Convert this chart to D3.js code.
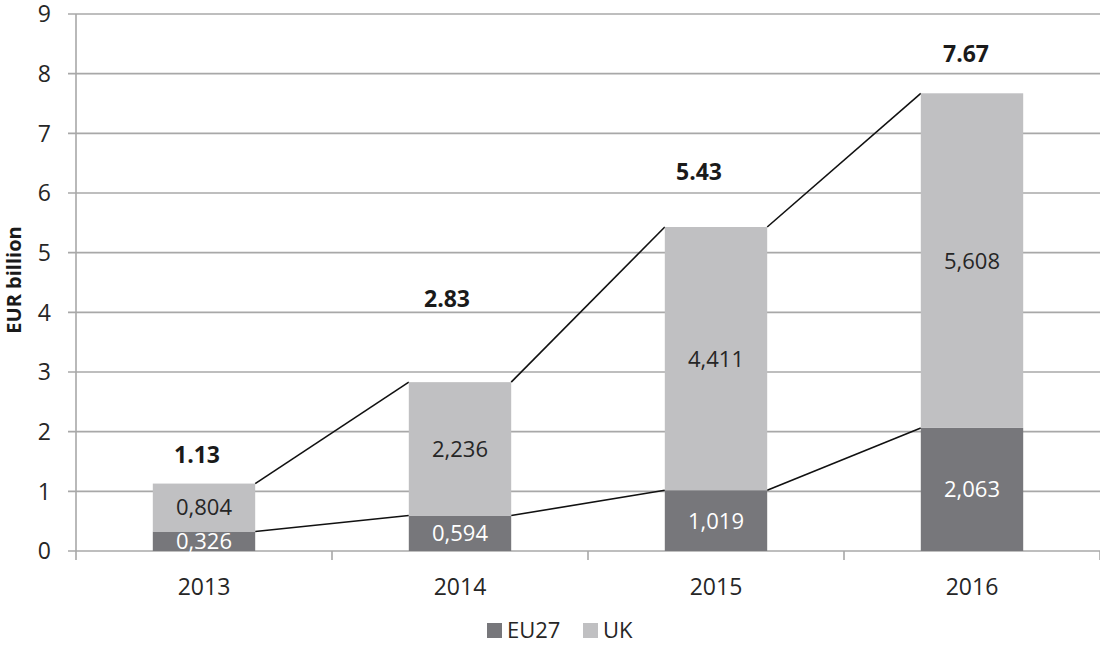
<!DOCTYPE html>
<html>
<head>
<meta charset="utf-8">
<script src="https://cdn.jsdelivr.net/npm/d3@7"></script>
<style>
    body { margin: 0; background: #fff; }
    text { font-family: "Open Sans", sans-serif; }
</style>
</head>
<body>
<div id="chart-area"></div>
<script>
// data
const years = ["2013", "2014", "2015", "2016"];
const eu27 = [0.326, 0.594, 1.019, 2.063];
const uk = [0.804, 2.236, 4.411, 5.608];
const totals = [1.13, 2.83, 5.43, 7.67];
const yTicks = [0, 1, 2, 3, 4, 5, 6, 7, 8, 9];

// total labels were placed by hand in the original, keep their nudges here
const totalLabelLift = [29, 83, 55, 40];
const totalLabelShift = [-7, -13, -17, -6];

const width = 1100;
const height = 646;
const margins = { top: 14, right: 0, bottom: 95, left: 76 };
const graphWidth = width - margins.left - margins.right;
const graphHeight = height - margins.top - margins.bottom;

const colors = { eu27: "#77777b", uk: "#c0c0c2", grid: "#a8a8a8" };

const svg = d3.select("#chart-area")
    .append("svg")
        .attr("width", width)
        .attr("height", height);

const chart = svg.append("g")
    .attr("transform", `translate(${margins.left}, ${margins.top})`);

const x = d3.scaleBand()
    .domain(years)
    .range([0, graphWidth])
    .paddingInner(0.6)
    .paddingOuter(0.3);

// band boundaries for the tick marks
const xEdges = d3.scaleLinear().domain([0, years.length]).range([0, graphWidth]);

const y = d3.scaleLinear()
    .domain([0, 9])
    .range([graphHeight, 0]);

// gridlines
chart.append("g")
    .selectAll("line")
    .data(yTicks)
    .enter()
    .append("line")
    .attr("x1", -8)
    .attr("x2", graphWidth)
    .attr("y1", d => y(d))
    .attr("y2", d => y(d))
    .attr("stroke", colors.grid)
    .attr("stroke-width", 1.6);

// y tick labels
chart.append("g")
    .selectAll("text")
    .data(yTicks)
    .enter()
    .append("text")
    .attr("x", -25)
    .attr("y", d => y(d))
    .attr("dy", "0.36em")
    .attr("text-anchor", "end")
    .attr("font-size", 23)
    .attr("fill", "#262626")
    .text(d => d);

// y axis line
chart.append("line")
    .attr("x1", 0).attr("x2", 0)
    .attr("y1", 0).attr("y2", graphHeight)
    .attr("stroke", colors.grid)
    .attr("stroke-width", 1.6);

// x tick marks at category edges
chart.append("g")
    .selectAll("line")
    .data(d3.range(years.length + 1))
    .enter()
    .append("line")
    .attr("x1", d => xEdges(d))
    .attr("x2", d => xEdges(d))
    .attr("y1", graphHeight)
    .attr("y2", graphHeight + 9)
    .attr("stroke", colors.grid)
    .attr("stroke-width", 1.6);

// x labels
chart.append("g")
    .selectAll("text")
    .data(years)
    .enter()
    .append("text")
    .attr("x", d => x(d) + x.bandwidth() / 2)
    .attr("y", graphHeight + 44)
    .attr("text-anchor", "middle")
    .attr("font-size", 23)
    .attr("fill", "#262626")
    .text(d => d);

// y axis title
svg.append("text")
    .attr("transform", "translate(21, 280) rotate(-90)")
    .attr("text-anchor", "middle")
    .attr("font-size", 20)
    .attr("font-weight", "bold")
    .attr("fill", "#1a1a1a")
    .text("EUR billion");

// stacked rows
const rows = years.map((yr, i) => ({ year: yr, eu27: eu27[i], uk: uk[i] }));
const stack = d3.stack().keys(["eu27", "uk"])(rows);

// series lines between bars
const seriesLine = chart.append("g");
stack.forEach(layer => {
    for (let i = 0; i < layer.length - 1; i++) {
        seriesLine.append("line")
            .attr("x1", x(years[i]) + x.bandwidth())
            .attr("y1", y(layer[i][1]))
            .attr("x2", x(years[i + 1]))
            .attr("y2", y(layer[i + 1][1]))
            .attr("stroke", "#111")
            .attr("stroke-width", 1.6);
    }
});

// bars
chart.append("g")
    .selectAll("g")
    .data(stack)
    .enter()
    .append("g")
    .attr("fill", d => colors[d.key])
    .selectAll("rect")
    .data(d => d)
    .enter()
    .append("rect")
    .attr("x", d => x(d.data.year))
    .attr("y", d => y(d[1]))
    .attr("width", x.bandwidth())
    .attr("height", d => y(d[0]) - y(d[1]));

// segment labels
const fmt = v => d3.format(".3f")(v).replace(".", ",");
stack.forEach(layer => {
    chart.append("g")
        .selectAll("text")
        .data(layer)
        .enter()
        .append("text")
        .attr("x", d => x(d.data.year) + x.bandwidth() / 2)
        .attr("y", d => (y(d[0]) + y(d[1])) / 2)
        .attr("dy", "0.36em")
        .attr("text-anchor", "middle")
        .attr("font-size", 22)
        .attr("fill", layer.key === "eu27" ? "#fff" : "#262626")
        .text(d => fmt(d.data[layer.key]));
});

// totals
chart.append("g")
    .selectAll("text")
    .data(totals)
    .enter()
    .append("text")
    .attr("x", (d, i) => x(years[i]) + x.bandwidth() / 2 + totalLabelShift[i])
    .attr("y", (d, i) => y(d) - totalLabelLift[i])
    .attr("dy", "0.36em")
    .attr("text-anchor", "middle")
    .attr("font-size", 23)
    .attr("font-weight", "bold")
    .attr("fill", "#1a1a1a")
    .text(d => d3.format(".2f")(d));

// legend
const legendItems = [
    { label: "EU27", color: colors.eu27, x: 487 },
    { label: "UK", color: colors.uk, x: 583 }
];
const legend = svg.append("g");
legend.selectAll("rect")
    .data(legendItems)
    .enter()
    .append("rect")
    .attr("x", d => d.x)
    .attr("y", 623)
    .attr("width", 15)
    .attr("height", 15)
    .attr("fill", d => d.color);
legend.selectAll("text")
    .data(legendItems)
    .enter()
    .append("text")
    .attr("x", d => d.x + 20)
    .attr("y", 638)
    .attr("font-size", 22)
    .attr("fill", "#262626")
    .text(d => d.label);
</script>
</body>
</html>
